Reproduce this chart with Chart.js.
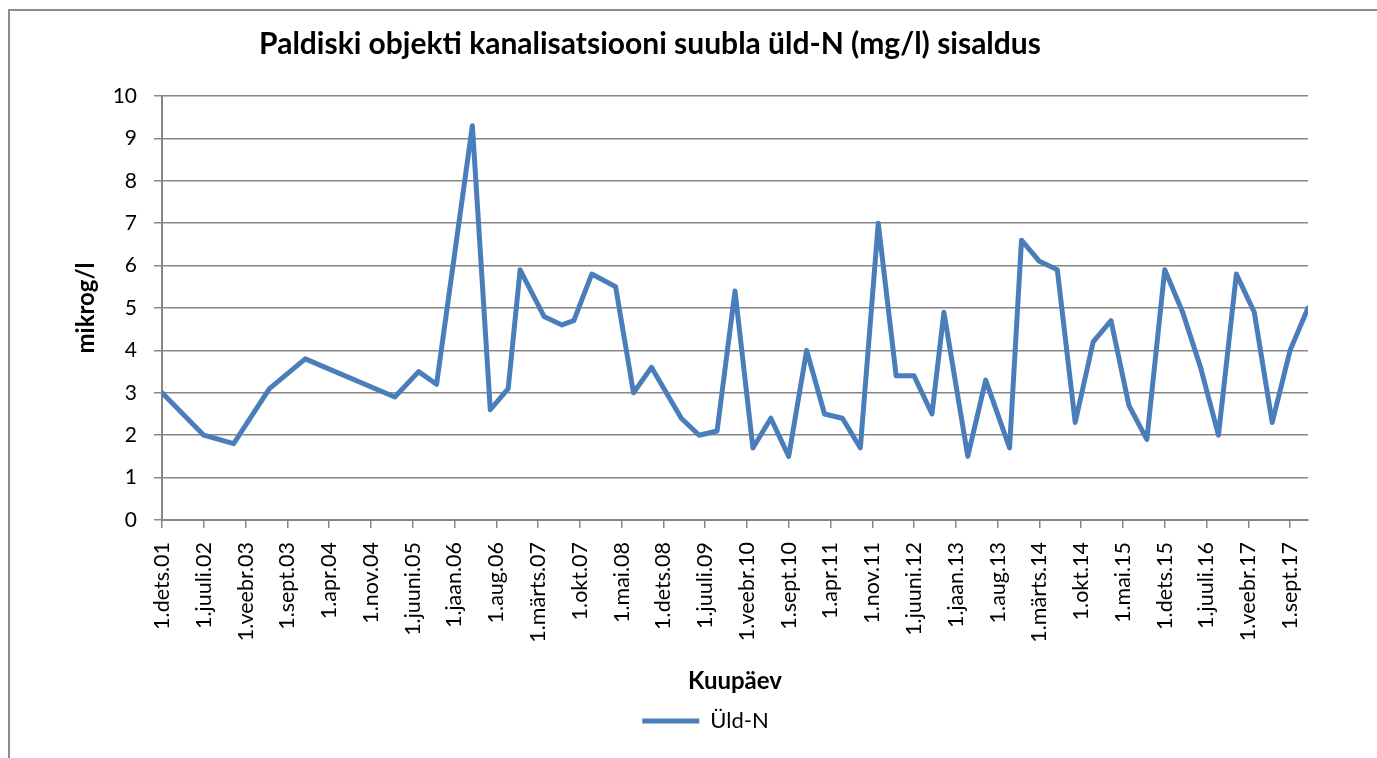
<!DOCTYPE html>
<html>
<head>
<meta charset="utf-8">
<script src="https://cdn.jsdelivr.net/npm/chart.js@4.4.1/dist/chart.umd.min.js"></script>
<style>
  html, body { margin: 0; padding: 0; background: #fff; }
  #wrap { position: relative; width: 1377px; height: 758px; }
  #frame {
    position: absolute; left: 8px; top: 9px; right: -5px; bottom: -5px;
    border-left: 2px solid #8c8c8c; border-top: 2px solid #8c8c8c;
  }
  canvas { position: absolute; left: 0; top: 0; }
</style>
</head>
<body>
<div id="wrap">
  <div id="frame"></div>
  <canvas id="chart" width="1377" height="758"></canvas>
</div>
<script>
// sampling dates (year-month) and total nitrogen values
const sampleDates = [
  "2001-12", "2002-07", "2002-12", "2003-06", "2003-12", "2005-03", "2005-07", "2005-10",
  "2006-04", "2006-07", "2006-10", "2006-12", "2007-04", "2007-07", "2007-09", "2007-12",
  "2008-04", "2008-07", "2008-10", "2009-03", "2009-06", "2009-09", "2009-12", "2010-03",
  "2010-06", "2010-09", "2010-12", "2011-03", "2011-06", "2011-09", "2011-12", "2012-03",
  "2012-06", "2012-09", "2012-11", "2013-03", "2013-06", "2013-10", "2013-12", "2014-03",
  "2014-06", "2014-09", "2014-12", "2015-03", "2015-06", "2015-09", "2015-12", "2016-03",
  "2016-06", "2016-09", "2016-12", "2017-03", "2017-06", "2017-09", "2017-12"
];
const uldN = [
  3.0, 2.0, 1.8, 3.1, 3.8, 2.9, 3.5, 3.2,
  9.3, 2.6, 3.1, 5.9, 4.8, 4.6, 4.7, 5.8,
  5.5, 3.0, 3.6, 2.4, 2.0, 2.1, 5.4, 1.7,
  2.4, 1.5, 4.0, 2.5, 2.4, 1.7, 7.0, 3.4,
  3.4, 2.5, 4.9, 1.5, 3.3, 1.7, 6.6, 6.1,
  5.9, 2.3, 4.2, 4.7, 2.7, 1.9, 5.9, 4.9,
  3.6, 2.0, 5.8, 4.9, 2.3, 4.0, 5.0
];
// date axis labels, one every 7 months from 1.dets.01
const tickLabels = [
  "1.dets.01", "1.juuli.02", "1.veebr.03", "1.sept.03", "1.apr.04", "1.nov.04", "1.juuni.05",
  "1.jaan.06", "1.aug.06", "1.märts.07", "1.okt.07", "1.mai.08", "1.dets.08", "1.juuli.09",
  "1.veebr.10", "1.sept.10", "1.apr.11", "1.nov.11", "1.juuni.12", "1.jaan.13", "1.aug.13",
  "1.märts.14", "1.okt.14", "1.mai.15", "1.dets.15", "1.juuli.16", "1.veebr.17", "1.sept.17"
];
const TICK_STEP = 7; // months between axis labels
const yTicks = [0, 1, 2, 3, 4, 5, 6, 7, 8, 9, 10];

const FONT = "Lato";
const GRID = "#868686";
const LINE = "#4a7ebb";

// months counted from december 2001
function monthIndex(s) {
  const [y, m] = s.split("-").map(Number);
  return (y - 2001) * 12 + (m - 12);
}

const points = sampleDates.map((d, i) => ({ x: monthIndex(d), y: uldN[i] }));
const lastMonth = monthIndex(sampleDates[sampleDates.length - 1]);

const titlePlugin = {
  id: "chartTitle",
  afterDraw(chart) {
    const ctx = chart.ctx;
    ctx.save();
    ctx.font = "bold 30px " + FONT;
    ctx.fillStyle = "#000";
    ctx.textAlign = "center";
    ctx.textBaseline = "middle";
    ctx.fillText("Paldiski objekti kanalisatsiooni suubla üld-N (mg/l) sisaldus", 650, 44);
    ctx.restore();
  }
};

new Chart(document.getElementById("chart"), {
  type: "line",
  data: {
    datasets: [{
      label: "Üld-N",
      data: points,
      borderColor: LINE,
      backgroundColor: LINE,
      borderWidth: 5,
      borderJoinStyle: "round",
      borderCapStyle: "round",
      pointRadius: 0,
      tension: 0
    }]
  },
  options: {
    responsive: false,
    animation: false,
    layout: { padding: { top: 96, left: 34, right: 0, bottom: 16 } },
    scales: {
      x: {
        type: "linear",
        min: 0,
        max: lastMonth,
        afterBuildTicks(scale) {
          scale.ticks = tickLabels.map((_, i) => ({ value: i * TICK_STEP }));
        },
        afterFit(scale) { scale.height = 182; },
        ticks: {
          autoSkip: false,
          minRotation: 90,
          maxRotation: 90,
          padding: 14,
          color: "#000",
          font: { family: FONT, size: 21.5 },
          callback: (v) => tickLabels[Math.round(v / TICK_STEP)]
        },
        grid: { drawOnChartArea: false, color: GRID, lineWidth: 1.5, tickLength: 8 },
        border: { color: GRID, width: 2 },
        title: {
          display: true,
          text: "Kuupäev",
          color: "#000",
          font: { family: FONT, size: 24, weight: "bold" },
          padding: { top: 0, bottom: 6 }
        }
      },
      y: {
        min: 0,
        max: 10,
        afterBuildTicks(scale) {
          scale.ticks = yTicks.map(v => ({ value: v }));
        },
        afterFit(scale) { scale.width = 128; },
        ticks: {
          padding: 17,
          color: "#000",
          font: { family: FONT, size: 21 }
        },
        grid: { color: GRID, lineWidth: 1.5, tickLength: 8 },
        border: { color: GRID, width: 2 },
        title: {
          display: true,
          text: "mikrog/l",
          color: "#000",
          font: { family: FONT, size: 24, weight: "bold" },
          padding: { top: 38, bottom: 0 }
        }
      },
      // empty right-hand strip so the plot stops where the reference does
      spacer: {
        position: "right",
        display: true,
        afterFit(scale) { scale.width = 69; },
        ticks: { display: false },
        grid: { display: false },
        border: { display: false }
      }
    },
    plugins: {
      legend: {
        position: "bottom",
        labels: {
          usePointStyle: true,
          pointStyle: "line",
          pointStyleWidth: 57,
          padding: 8,
          color: "#000",
          font: { family: FONT, size: 22 }
        }
      },
      tooltip: { enabled: false }
    }
  },
  plugins: [titlePlugin]
});
</script>
</body>
</html>
